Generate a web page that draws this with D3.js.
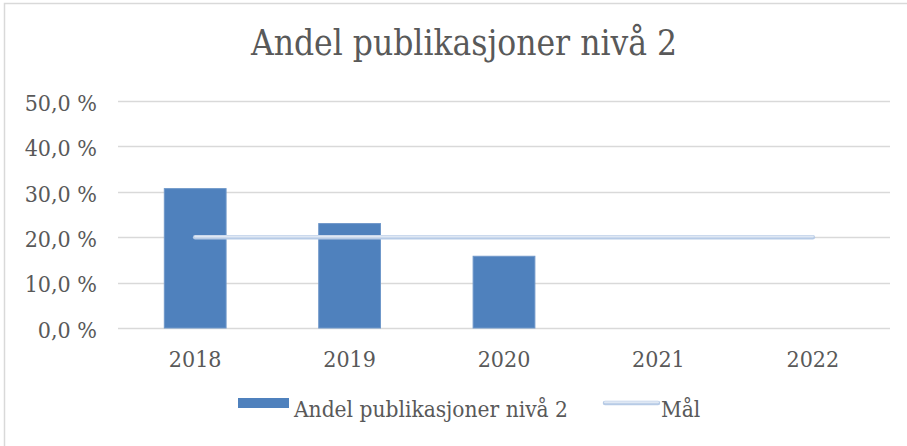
<!DOCTYPE html>
<html>
<head>
<script src="https://d3js.org/d3.v7.min.js"></script>
<style>
	body { margin: 0; background: #fff; }
	svg text { font-family: "DejaVu Serif Condensed", "DejaVu Serif", serif !important; fill: #595959; }
</style>
</head>
<body>
<script>
	var width = 907;
	var height = 446;

	// data
	var years = ["2018", "2019", "2020", "2021", "2022"];
	var andel = [0.307, 0.230, 0.158, null, null];
	var maal = [0.20, 0.20, 0.20, 0.20, 0.20];
	var yTicks = [0, 0.1, 0.2, 0.3, 0.4, 0.5];

	var margin = {left: 118, right: 17, top: 101, bottom: 118};
	var serif = "'DejaVu Serif Condensed', 'DejaVu Serif', serif";

	var svg = d3.select("body")
		.append("svg")
		.attr("width", width)
		.attr("height", height);

	// chart border (only left and top visible)
	svg.append("rect")
		.attr("x", 4.5).attr("y", 3.5)
		.attr("width", 1000).attr("height", 1000)
		.attr("fill", "none")
		.attr("stroke", "#d9d9d9")
		.attr("stroke-width", 1.5);

	var x = d3.scaleBand()
		.domain(years)
		.range([margin.left, width - margin.right])
		.paddingInner(0.6)
		.paddingOuter(0.3);

	var y = d3.scaleLinear()
		.domain([0, 0.5])
		.range([height - margin.bottom, margin.top]);

	var fmt = function(d) { return d3.format(".1f")(d * 100).replace(".", ",") + " %"; };

	// gridlines
	svg.append("g")
		.selectAll("line")
		.data(yTicks)
		.enter()
		.append("line")
		.attr("x1", margin.left)
		.attr("x2", width - margin.right)
		.attr("y1", d => Math.round(y(d)) + 0.5)
		.attr("y2", d => Math.round(y(d)) + 0.5)
		.attr("stroke", "#d9d9d9")
		.attr("stroke-width", 1.5);

	// y axis labels
	var yAxis = svg.append("g")
		.attr("transform", "translate(" + (margin.left - 21) + ",0)")
		.call(d3.axisLeft(y).tickValues(yTicks).tickFormat(fmt).tickSize(0).tickPadding(0));
	yAxis.attr("font-family", serif);
	yAxis.select(".domain").remove();
	yAxis.selectAll("text")
		.attr("dy", "0.4em")
		.style("font-size", "23px")
		.style("fill", "#595959");

	// x axis labels
	var xAxis = svg.append("g")
		.attr("transform", "translate(0," + (height - margin.bottom) + ")")
		.call(d3.axisBottom(x).tickSize(0).tickPadding(0));
	xAxis.attr("font-family", serif);
	xAxis.select(".domain").remove();
	xAxis.selectAll("text")
		.attr("y", 39)
		.attr("dy", 0)
		.style("font-size", "23px")
		.style("fill", "#595959");

	// bars
	svg.append("g")
		.selectAll("rect")
		.data(years.map((d, i) => ({year: d, v: andel[i]})).filter(d => d.v != null))
		.enter()
		.append("rect")
		.attr("x", d => x(d.year))
		.attr("y", d => y(d.v))
		.attr("width", x.bandwidth())
		.attr("height", d => y(0) - y(d.v))
		.attr("fill", "#4f81bd")
		.attr("stroke", "#6f97c9")
		.attr("stroke-width", 1);

	// goal line
	var line = d3.line()
		.x((d, i) => x(years[i]) + x.bandwidth() / 2)
		.y(d => y(d));

	function goalPath(g, pts) {
		g.append("path")
			.attr("d", pts)
			.attr("fill", "none")
			.attr("stroke", "#b7cbe6")
			.attr("stroke-width", 4.5)
			.attr("stroke-linecap", "round");
		g.append("path")
			.attr("d", pts)
			.attr("fill", "none")
			.attr("stroke", "#dfe8f4")
			.attr("stroke-width", 2)
			.attr("stroke-linecap", "round")
			.attr("transform", "translate(0,-0.8)");
	}
	goalPath(svg.append("g"), line(maal));

	// title
	svg.append("text")
		.attr("x", 464)
		.attr("y", 55)
		.attr("text-anchor", "middle")
		.attr("font-family", serif)
		.style("font-size", "35px")
		.text("Andel publikasjoner nivå 2");

	// legend
	var lg = svg.append("g").attr("font-family", serif);
	lg.append("rect")
		.attr("x", 238).attr("y", 398)
		.attr("width", 51).attr("height", 10)
		.attr("fill", "#4f81bd");
	lg.append("text")
		.attr("x", 294).attr("y", 417)
		.style("font-size", "22.5px")
		.text("Andel publikasjoner nivå 2");
	goalPath(lg, "M605,403H658");
	lg.append("text")
		.attr("x", 661).attr("y", 417)
		.style("font-size", "22.5px")
		.text("Mål");
</script>
</body>
</html>
